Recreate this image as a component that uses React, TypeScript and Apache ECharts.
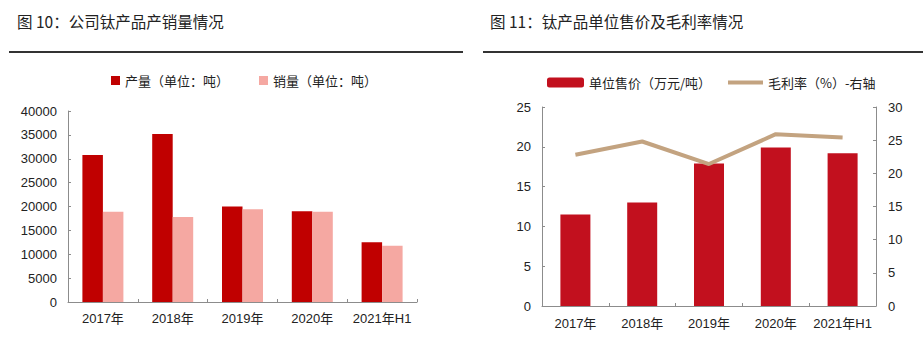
import React, { useEffect, useRef } from "react";
import * as echarts from "echarts";

const categories = ["2017年", "2018年", "2019年", "2020年", "2021年H1"];
const production = [30800, 35200, 20000, 19000, 12500];
const sales = [18900, 17800, 19400, 18900, 11800];
const unitPrice = [11.5, 13.0, 17.9, 19.9, 19.2];
const grossMargin = [22.8, 24.8, 21.4, 25.9, 25.4];

const title1 = "图 10：公司钛产品产销量情况";
const title2 = "图 11：钛产品单位售价及毛利率情况";
const nameProd = "产量（单位：吨）";
const nameSales = "销量（单位：吨）";
const namePrice = "单位售价（万元/吨）";
const nameMargin = "毛利率（%）-右轴";

const CJK = "Noto Sans CJK SC";
const NUM = "Liberation Sans, Arial, Noto Sans CJK SC";
const AXIS_GRAY = "#8c8c8c";
const LABEL = "#222";

export default function App() {
  const ref = useRef<HTMLDivElement>(null);
  useEffect(() => {
    if (!ref.current) return;
    const chart = echarts.init(ref.current, undefined, { renderer: "svg" });
    const axisCommon = {
      axisLine: { show: true, lineStyle: { color: AXIS_GRAY, width: 1 } },
      axisTick: { show: true, inside: true, length: 3, lineStyle: { color: AXIS_GRAY } },
      splitLine: { show: false },
    };
    const plain = (v: number) => String(v);
    chart.setOption({
      animation: false,
      backgroundColor: "#fff",
      title: [
        {
          text: title1,
          left: 17,
          top: 13,
          padding: 0,
          textStyle: { fontFamily: CJK, fontSize: 15.5, fontWeight: "normal", color: "#222" },
        },
        {
          text: title2,
          left: 490,
          top: 13,
          padding: 0,
          textStyle: { fontFamily: CJK, fontSize: 15.5, fontWeight: "normal", color: "#222" },
        },
      ],
      graphic: [
        { type: "line", shape: { x1: 9, y1: 52, x2: 463, y2: 52 }, style: { stroke: "#333", lineWidth: 2 } },
        { type: "line", shape: { x1: 483, y1: 52, x2: 923, y2: 52 }, style: { stroke: "#333", lineWidth: 2 } },
      ],
      legend: [
        {
          data: [nameProd, nameSales],
          left: 111,
          top: 74,
          padding: 0,
          icon: "rect",
          itemWidth: 9,
          itemHeight: 9,
          itemGap: 30,
          textStyle: { fontFamily: CJK, fontSize: 13, color: "#222" },
        },
        {
          data: [namePrice],
          left: 547,
          top: 76,
          padding: 0,
          icon: "roundRect",
          itemWidth: 37,
          itemHeight: 10,
          textStyle: { fontFamily: CJK, fontSize: 13, color: "#222" },
        },
        {
          data: [nameMargin],
          left: 728,
          top: 76,
          padding: 0,
          icon: "rect",
          itemWidth: 35,
          itemHeight: 4,
          textStyle: { fontFamily: CJK, fontSize: 13, color: "#222" },
        },
      ],
      grid: [
        { left: 68, top: 111, width: 349, height: 191, containLabel: false },
        { left: 542, top: 107, width: 334, height: 199, containLabel: false },
      ],
      xAxis: [
        {
          type: "category",
          gridIndex: 0,
          data: categories,
          ...axisCommon,
          axisLabel: { fontFamily: NUM, fontSize: 13, color: LABEL, margin: 10, interval: 0 },
        },
        {
          type: "category",
          gridIndex: 1,
          data: categories,
          ...axisCommon,
          axisLabel: { fontFamily: NUM, fontSize: 13, color: LABEL, margin: 11, interval: 0 },
        },
      ],
      yAxis: [
        {
          type: "value",
          gridIndex: 0,
          min: 0,
          max: 40000,
          interval: 5000,
          ...axisCommon,
          axisLabel: { fontFamily: NUM, fontSize: 13, color: LABEL, margin: 11, formatter: plain },
        },
        {
          type: "value",
          gridIndex: 1,
          min: 0,
          max: 25,
          interval: 5,
          position: "left",
          ...axisCommon,
          axisLabel: { fontFamily: NUM, fontSize: 13, color: LABEL, margin: 11, formatter: plain },
        },
        {
          type: "value",
          gridIndex: 1,
          min: 0,
          max: 30,
          interval: 5,
          position: "right",
          ...axisCommon,
          axisLabel: { fontFamily: NUM, fontSize: 13, color: LABEL, margin: 12, formatter: plain },
        },
      ],
      series: [
        {
          name: nameProd,
          type: "bar",
          xAxisIndex: 0,
          yAxisIndex: 0,
          data: production,
          barWidth: 20.5,
          barGap: "0%",
          itemStyle: { color: "#C00000" },
        },
        {
          name: nameSales,
          type: "bar",
          xAxisIndex: 0,
          yAxisIndex: 0,
          data: sales,
          barWidth: 20.5,
          barGap: "0%",
          itemStyle: { color: "#F5A8A2" },
        },
        {
          name: namePrice,
          type: "bar",
          xAxisIndex: 1,
          yAxisIndex: 1,
          data: unitPrice,
          barWidth: 30,
          itemStyle: { color: "#C2101E" },
        },
        {
          name: nameMargin,
          type: "line",
          xAxisIndex: 1,
          yAxisIndex: 2,
          data: grossMargin,
          symbol: "none",
          itemStyle: { color: "#C3A380" },
          lineStyle: { color: "#C3A380", width: 4 },
        },
      ],
    });
    return () => chart.dispose();
  }, []);
  return (
    <div
      ref={ref}
      style={{ position: "absolute", left: 0, top: 0, width: 923, height: 339 }}
    />
  );
}
